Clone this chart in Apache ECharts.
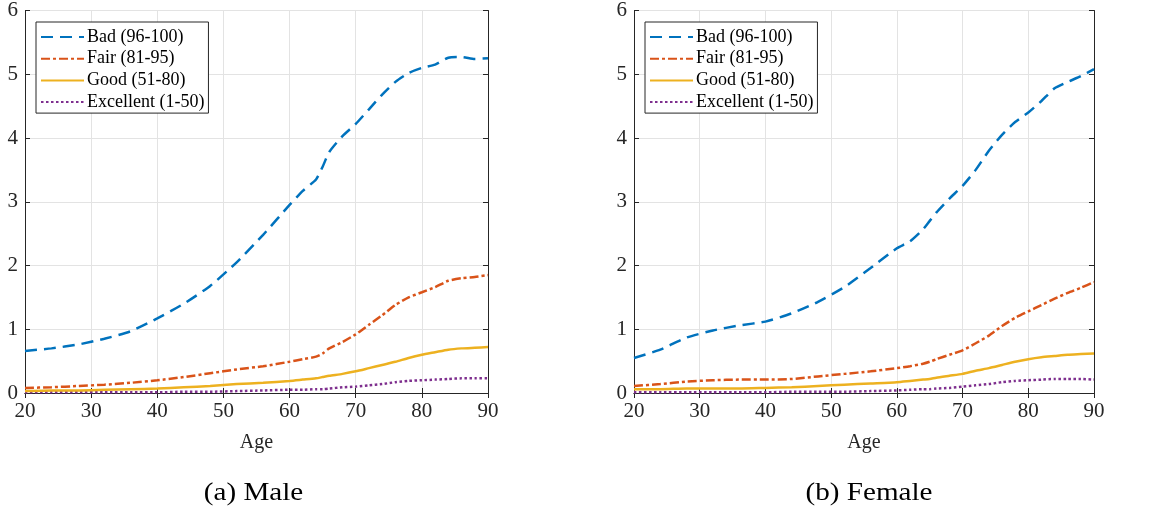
<!DOCTYPE html>
<html><head><meta charset="utf-8">
<script src="https://cdn.jsdelivr.net/npm/echarts@6/dist/echarts.min.js"></script>
<style>html,body{margin:0;padding:0;background:#fff}#c{width:1154px;height:511px}</style>
</head><body><div id="c"></div>
<script>
const ages = [20,24,28,32,36,40,44,48,52,56,60,62,64,65,66,68,70,72,74,76,78,80,82,84,86,88,90];
const seriesNames = ['Bad (96-100)','Fair (81-95)','Good (51-80)','Excellent (1-50)'];
const panelTitles = ['(a) Male','(b) Female'];
const xTicks = [20,30,40,50,60,70,80,90];
const yTicks = [0,1,2,3,4,5,6];

const maleBad = [0.66,0.70,0.76,0.85,0.97,1.17,1.40,1.68,2.05,2.48,2.95,3.17,3.35,3.55,3.78,4.03,4.22,4.45,4.68,4.88,5.02,5.10,5.15,5.26,5.27,5.24,5.25];
const maleFair = [0.08,0.09,0.11,0.13,0.16,0.20,0.25,0.31,0.37,0.42,0.49,0.53,0.57,0.62,0.70,0.80,0.92,1.07,1.22,1.38,1.50,1.58,1.66,1.76,1.80,1.82,1.85];
const maleGood = [0.03,0.04,0.04,0.05,0.06,0.07,0.09,0.11,0.14,0.16,0.19,0.21,0.23,0.25,0.27,0.30,0.34,0.39,0.44,0.49,0.55,0.60,0.64,0.68,0.70,0.71,0.72];
const maleExcellent = [0.01,0.01,0.01,0.01,0.01,0.01,0.02,0.02,0.03,0.04,0.05,0.05,0.06,0.06,0.07,0.09,0.10,0.12,0.14,0.17,0.19,0.20,0.21,0.22,0.23,0.23,0.23];

const femaleBad = [0.55,0.68,0.87,0.98,1.06,1.12,1.25,1.43,1.66,1.96,2.27,2.38,2.57,2.70,2.83,3.05,3.25,3.50,3.80,4.05,4.25,4.40,4.58,4.78,4.88,4.97,5.08];
const femaleFair = [0.11,0.14,0.18,0.20,0.21,0.21,0.22,0.26,0.30,0.34,0.39,0.42,0.46,0.49,0.53,0.60,0.67,0.78,0.90,1.05,1.18,1.28,1.38,1.48,1.57,1.65,1.74];
const femaleGood = [0.06,0.06,0.07,0.07,0.07,0.08,0.09,0.11,0.13,0.15,0.17,0.19,0.21,0.22,0.24,0.27,0.30,0.35,0.39,0.44,0.49,0.53,0.56,0.58,0.60,0.61,0.62];
const femaleExcellent = [0.01,0.01,0.01,0.01,0.01,0.01,0.02,0.02,0.02,0.03,0.04,0.05,0.06,0.06,0.07,0.08,0.10,0.12,0.14,0.17,0.19,0.20,0.21,0.22,0.22,0.22,0.21];

const colors = ['#0072BD','#D95319','#EDB120','#7E2F8E'];
const dashes = [[12,7],[9,3,3,3],'solid',[2.5,2.5]];
const FONT = '"Liberation Serif", "Times New Roman", serif';
const TXT = '#262626';

const panels = [
  {left:25, width:463, data:[maleBad,maleFair,maleGood,maleExcellent]},
  {left:634, width:460, data:[femaleBad,femaleFair,femaleGood,femaleExcellent]}
];

const grids=[], xAxes=[], yAxes=[], series=[], legends=[], graphics=[];
panels.forEach((p,pi)=>{
  grids.push({left:p.left, width:p.width, top:10, height:383, containLabel:false});
  const axLine = {show:true, lineStyle:{color:TXT, width:1}};
  const ticks = {show:true, inside:true, length:5, lineStyle:{color:TXT}};
  xAxes.push({type:'value', gridIndex:pi, position:'bottom', min:20, max:90, interval:10,
    axisLine:axLine, axisTick:ticks,
    axisLabel:{color:TXT, fontFamily:FONT, fontSize:21, margin:8},
    splitLine:{show:true, lineStyle:{color:'#e3e3e3', width:1}},
    name:'Age', nameLocation:'middle', nameGap:40,
    nameTextStyle:{color:TXT, fontFamily:FONT, fontSize:20}});
  xAxes.push({type:'value', gridIndex:pi, position:'top', min:20, max:90, interval:10,
    axisLine:axLine, axisTick:ticks, axisLabel:{show:false}, splitLine:{show:false}});
  yAxes.push({type:'value', gridIndex:pi, position:'left', min:0, max:6, interval:1,
    axisLine:axLine, axisTick:ticks,
    axisLabel:{color:TXT, fontFamily:FONT, fontSize:21, margin:7},
    splitLine:{show:true, lineStyle:{color:'#e3e3e3', width:1}}});
  yAxes.push({type:'value', gridIndex:pi, position:'right', min:0, max:6, interval:1,
    axisLine:axLine, axisTick:ticks, axisLabel:{show:false}, splitLine:{show:false}});
  const names=[];
  p.data.forEach((vals,si)=>{
    const id = seriesNames[si] + (pi ? ' ' : '');
    names.push(id);
    series.push({type:'line', name:id, xAxisIndex:pi*2, yAxisIndex:pi*2,
      data: ages.map((a,i)=>[a, vals[i]]), showSymbol:false, symbol:'none', smooth:0.2,
      z: 10-si,
      lineStyle:{color:colors[si], width:2.5, type:dashes[si]},
      itemStyle:{color:colors[si]}});
  });
  legends.push({show:true, data:names, orient:'vertical', left:p.left+11, top:22,
    padding:[6,4,2,4], itemWidth:43, itemHeight:14, itemGap:3.7,
    backgroundColor:'#fff', borderColor:TXT, borderWidth:1, borderRadius:0,
    selectedMode:false,
    itemStyle:{color:'rgba(0,0,0,0)', opacity:0, borderWidth:0},
    lineStyle:{width:2},
    formatter: n => n.trim(),
    textStyle:{color:'#000', fontFamily:FONT, fontSize:18, padding:[0,0,0,-2]}});
  graphics.push({type:'text', x: p.left + p.width/2 - (pi?-5:3), y:493, scaleX:1.12,
    style:{text:panelTitles[pi], fill:'#000', font:'26px ' + FONT, align:'center', verticalAlign:'middle'}});
});

const chart = echarts.init(document.getElementById('c'), null, {renderer:'canvas'});
chart.setOption({animation:false, backgroundColor:'#fff',
  grid:grids, xAxis:xAxes, yAxis:yAxes, series:series, legend:legends, graphic:graphics});
</script></body></html>
